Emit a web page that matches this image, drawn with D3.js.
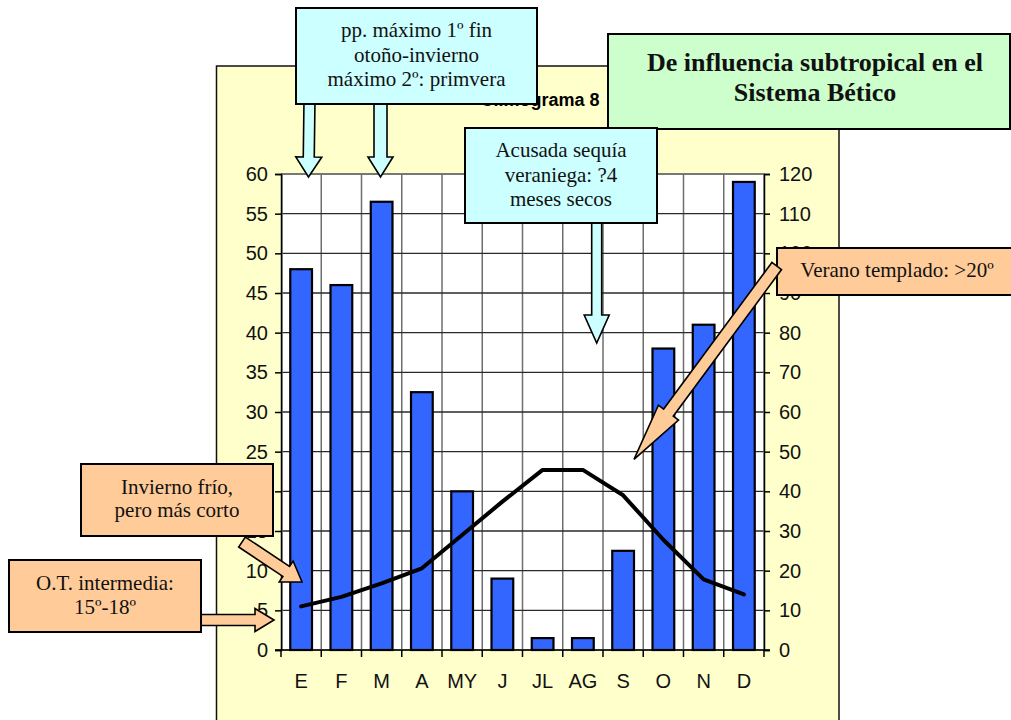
<!DOCTYPE html>
<html>
<head>
<meta charset="utf-8">
<script src="https://cdn.jsdelivr.net/npm/d3@7"></script>
<style>
  html, body { margin: 0; padding: 0; background: #ffffff; }
  svg { display: block; }
</style>
</head>
<body>
<svg id="chart" width="1011" height="720"></svg>
<script>
// ---- data ----
const months = ["E", "F", "M", "A", "MY", "J", "JL", "AG", "S", "O", "N", "D"];
const precipitation = [96, 92, 113, 65, 40, 18, 3, 3, 25, 76, 82, 118];   // mm (right axis)
const temperature = [5.5, 6.7, 8.4, 10.3, 14.5, 18.7, 22.7, 22.7, 19.5, 13.9, 8.9, 7.0]; // ºC (left axis)
const leftTicks = [0, 5, 10, 15, 20, 25, 30, 35, 40, 45, 50, 55, 60];
const rightTicks = [0, 10, 20, 30, 40, 50, 60, 70, 80, 90, 100, 110, 120];
const chartTitle = "Climograma 8";
const mainTitle = ["De influencia subtropical en el", "Sistema Bético"];
const noteMaxima = ["pp. máximo 1º fin", "otoño-invierno", "máximo 2º: primvera"];
const noteSequia = ["Acusada sequía", "veraniega: ?4", "meses secos"];
const noteVerano = ["Verano templado: >20º"];
const noteInvierno = ["Invierno frío,", "pero más corto"];
const noteOT = ["O.T. intermedia:", "15º-18º"];

// ---- layout ----
const svg = d3.select("#chart");
const P = { left: 281, right: 764, top: 174, bottom: 650 };
const serif = "'Times New Roman', 'Liberation Serif', serif";
const sans = "Arial, 'Liberation Sans', sans-serif";

const x = d3.scaleBand().domain(months).range([P.left, P.right]).paddingInner(0.46).paddingOuter(0.23);
const xb = d3.scaleLinear().domain([0, months.length]).range([P.left, P.right]);
const yL = d3.scaleLinear().domain([0, 60]).range([P.bottom, P.top]);
const yR = d3.scaleLinear().domain([0, 120]).range([P.bottom, P.top]);

// chart area
svg.append("rect").attr("x", 216.5).attr("y", 66).attr("width", 622.5).attr("height", 670)
  .attr("fill", "#FFFFCC").attr("stroke", "#111").attr("stroke-width", 1.5);

svg.append("text").attr("x", 540).attr("y", 106).attr("text-anchor", "middle")
  .attr("font-family", sans).attr("font-weight", "bold").attr("font-size", 18)
  .attr("fill", "#000").text(chartTitle);

// plot area
svg.append("rect").attr("x", P.left).attr("y", P.top).attr("width", P.right - P.left)
  .attr("height", P.bottom - P.top).attr("fill", "#fff");

// gridlines
svg.append("g").selectAll("line").data(d3.range(1, months.length)).join("line")
  .attr("x1", d => xb(d)).attr("x2", d => xb(d)).attr("y1", P.top).attr("y2", P.bottom)
  .attr("stroke", "#6e6e6e").attr("stroke-width", 1.5);
svg.append("g").selectAll("line").data(leftTicks.slice(1)).join("line")
  .attr("x1", P.left).attr("x2", P.right).attr("y1", d => yL(d)).attr("y2", d => yL(d))
  .attr("stroke", "#2a2a2a").attr("stroke-width", 1.4);
svg.append("rect").attr("x", P.left + 1).attr("y", P.top).attr("width", P.right - P.left - 1)
  .attr("height", P.bottom - P.top).attr("fill", "none").attr("stroke", "#808080").attr("stroke-width", 1.5);

// bars
svg.append("g").selectAll("rect").data(precipitation).join("rect")
  .attr("x", (d, i) => x(months[i])).attr("width", x.bandwidth())
  .attr("y", d => yR(d)).attr("height", d => yR(0) - yR(d))
  .attr("fill", "#3366FF").attr("stroke", "#000").attr("stroke-width", 2.2);

// temperature line
const line = d3.line().x((d, i) => x(months[i]) + x.bandwidth() / 2).y(d => yL(d));
svg.append("path").datum(temperature).attr("d", line).attr("fill", "none")
  .attr("stroke", "#000").attr("stroke-width", 4).attr("stroke-linejoin", "round").attr("stroke-linecap", "round");

// axes
const axL = svg.append("g").attr("transform", `translate(${P.left},0)`)
  .call(d3.axisLeft(yL).tickValues(leftTicks).tickSize(6).tickPadding(7).tickFormat(d3.format("d")));
const axR = svg.append("g").attr("transform", `translate(${P.right},0)`)
  .call(d3.axisRight(yR).tickValues(rightTicks).tickSize(6).tickPadding(9).tickFormat(d3.format("d")));
[axL, axR].forEach(a => {
  a.select(".domain").attr("stroke", "#000").attr("stroke-width", 1.5);
  a.selectAll(".tick line").attr("stroke", "#000").attr("stroke-width", 1.5);
  a.selectAll("text").attr("font-family", sans).attr("font-size", 20).attr("fill", "#111");
});
// x axis
svg.append("line").attr("x1", P.left - 6).attr("x2", P.right + 6).attr("y1", P.bottom).attr("y2", P.bottom)
  .attr("stroke", "#000").attr("stroke-width", 1.5);
svg.append("g").selectAll("line").data(d3.range(0, months.length + 1)).join("line")
  .attr("x1", d => xb(d)).attr("x2", d => xb(d)).attr("y1", P.bottom).attr("y2", P.bottom + 7)
  .attr("stroke", "#000").attr("stroke-width", 1.5);
svg.append("g").selectAll("text").data(months).join("text")
  .attr("x", d => x(d) + x.bandwidth() / 2).attr("y", 688).attr("text-anchor", "middle")
  .attr("font-family", sans).attr("font-size", 20).attr("fill", "#111").text(d => d);

// ---- annotations ----
function arrowPoly(x1, y1, x2, y2, sw, hw, hl) {
  const dx = x2 - x1, dy = y2 - y1, L = Math.hypot(dx, dy);
  const ux = dx / L, uy = dy / L, nx = -uy, ny = ux;
  const bx = x2 - ux * hl, by = y2 - uy * hl;
  const pts = [
    [x1 + nx * sw / 2, y1 + ny * sw / 2],
    [bx + nx * sw / 2, by + ny * sw / 2],
    [bx + nx * hw / 2, by + ny * hw / 2],
    [x2, y2],
    [bx - nx * hw / 2, by - ny * hw / 2],
    [bx - nx * sw / 2, by - ny * sw / 2],
    [x1 - nx * sw / 2, y1 - ny * sw / 2]
  ];
  return "M" + pts.map(p => p.join(",")).join("L") + "Z";
}
function arrow(a, fill) {
  svg.append("path").attr("d", arrowPoly(...a)).attr("fill", fill)
    .attr("stroke", "#000").attr("stroke-width", 1.6).attr("stroke-linejoin", "miter");
}
function box(x0, y0, w, h, fill, lines, cx, baselines, size, bold) {
  svg.append("rect").attr("x", x0).attr("y", y0).attr("width", w).attr("height", h)
    .attr("fill", fill).attr("stroke", "#000").attr("stroke-width", 2);
  lines.forEach((t, i) => {
    svg.append("text").attr("x", cx).attr("y", baselines[i]).attr("text-anchor", "middle")
      .attr("font-family", serif).attr("font-size", size).attr("font-weight", bold ? "bold" : "normal")
      .attr("fill", "#111").text(t);
  });
}

const cyan = "#CCFFFF", orange = "#FFCC99", green = "#CCFFCC";

// maxima note
arrow([309.5, 100, 308.5, 177, 11, 26, 20], cyan);
arrow([380.5, 100, 380.5, 177, 13, 25, 20], cyan);
box(296, 8, 241, 96, cyan, noteMaxima, 416.5, [37, 62, 86], 21, false);

// title box
box(608, 34, 402, 95, green, mainTitle, 815, [71, 101], 26, true);

// sequia note
arrow([596.7, 220, 596.7, 343, 10, 25, 28], cyan);
box(465, 128, 192, 95, cyan, noteSequia, 561, [157, 182, 206], 21, false);

// verano note
box(777, 248, 236, 47, orange, noteVerano, 897, [277], 21, false);
arrow([776.7, 266, 634, 459.3, 12, 25, 58], orange);

// invierno note
box(81, 464, 192, 72, orange, noteInvierno, 177, [494, 517], 21, false);
arrow([242, 542, 302, 582, 12, 25, 19], orange);

// O.T. note
arrow([198, 620, 274, 620, 11, 23, 19], orange);
box(9, 560, 192, 72, orange, noteOT, 105, [590, 614], 21, false);
</script>
</body>
</html>
